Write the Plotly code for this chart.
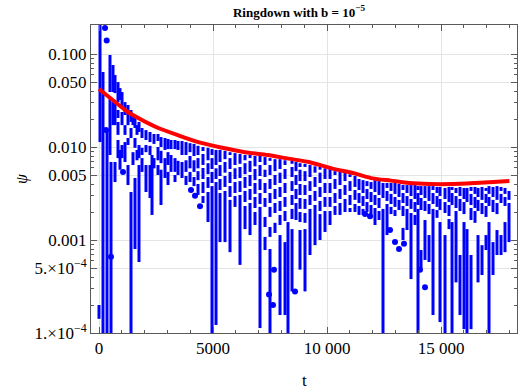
import plotly.graph_objects as go

# blue |psi| samples, drawn as short vertical strokes; one source line per time column
seg_t = [0,
         44,
         175,
         351,
         482, 482,
         526,
         614, 614,
         702, 702, 702,
         833, 833, 833, 833,
         921, 921,
         1009, 1009, 1009,
         1140, 1140, 1140,
         1272, 1272, 1272,
         1404, 1404, 1404,
         1491, 1491,
         1579, 1579, 1579,
         1667, 1667,
         1754, 1754, 1754,
         1886, 1886, 1886,
         2061, 2061, 2061,
         2237, 2237, 2237,
         2325,
         2412, 2412,
         2588, 2588, 2588,
         2719, 2719, 2719,
         2895, 2895,
         3026, 3026, 3026,
         3158, 3158,
         3333, 3333, 3333,
         3465, 3465,
         3640, 3640,
         3816, 3816, 3816,
         3991, 3991, 3991,
         4167, 4167, 4167,
         4342, 4342, 4342, 4342,
         4561, 4561, 4561, 4561, 4561,
         4781, 4781, 4781, 4781,
         4956, 4956, 4956, 4956,
         5132, 5132, 5132,
         5307, 5307, 5307, 5307,
         5526, 5526, 5526, 5526,
         5746, 5746, 5746, 5746, 5746,
         5965, 5965, 5965, 5965,
         6184, 6184, 6184, 6184,
         6404, 6404, 6404, 6404, 6404,
         6623, 6623, 6623, 6623, 6623,
         6842, 6842, 6842, 6842, 6842,
         7061, 7061, 7061, 7061, 7061,
         7281, 7281, 7281, 7281, 7281, 7281,
         7500, 7500, 7500, 7500, 7500, 7500, 7500,
         7719, 7719, 7719, 7719, 7719,
         7939, 7939, 7939, 7939, 7939, 7939,
         8158, 8158, 8158, 8158, 8158, 8158,
         8289,
         8465, 8465, 8465, 8465, 8465, 8465,
         8640, 8640, 8640, 8640,
         8816, 8816, 8816, 8816, 8816, 8816,
         9035, 9035, 9035, 9035, 9035, 9035,
         9254, 9254, 9254, 9254,
         9474, 9474, 9474, 9474,
         9693, 9693, 9693, 9693, 9693,
         9912, 9912, 9912, 9912,
         10132, 10132, 10132, 10132,
         10351, 10351, 10351, 10351,
         10570, 10570, 10570,
         10790, 10790, 10790,
         11009, 11009, 11009, 11009,
         11228, 11228, 11228,
         11404, 11404, 11404,
         11579, 11579, 11579,
         11754, 11754, 11754,
         11930, 11930, 11930,
         12105, 12105, 12105,
         12281, 12281, 12281,
         12456, 12456,
         12632, 12632, 12632,
         12807, 12807, 12807,
         12982, 12982, 12982,
         13158, 13158,
         13333, 13333, 13333, 13333,
         13509, 13509, 13509,
         13684, 13684, 13684,
         13860, 13860, 13860,
         13991, 13991, 13991,
         14123, 14123, 14123,
         14298, 14298, 14298,
         14474, 14474, 14474,
         14649, 14649, 14649,
         14825, 14825, 14825,
         14956, 14956, 14956,
         15176, 15176, 15176,
         15351, 15351, 15351,
         15483, 15483, 15483,
         15658, 15658, 15658,
         15833, 15833, 15833,
         16009, 16009, 16009,
         16140, 16140,
         16316, 16316, 16316, 16316,
         16491, 16491, 16491,
         16623, 16623, 16623,
         16798, 16798, 16798,
         16974, 16974, 16974, 16974,
         17105, 17105, 17105,
         17281, 17281, 17281,
         17456, 17456, 17456,
         17632, 17632, 17632,
         17807, 17807, 17807,
         17983, 17983]
seg_hi = [0.0002,
          0.25,
          0.064,
          0.0156,
          0.0976, 0.0328,
          0.0069,
          0.0762, 0.0304,
          0.0594, 0.0304, 0.0069,
          0.0499, 0.025, 0.0186, 0.0119,
          0.043, 0.0093,
          0.039, 0.0238, 0.0105,
          0.0304, 0.0172, 0.0113,
          0.0283, 0.0125, 0.0064,
          0.025, 0.016, 0.00328,
          0.0221, 0.0088,
          0.0205, 0.0125, 0.00464,
          0.0172, 0.0093,
          0.0186, 0.0105, 0.0064,
          0.016, 0.0098, 0.0076,
          0.0152, 0.0105, 0.0064,
          0.0145, 0.0103, 0.0064,
          0.0082,
          0.0138, 0.0076,
          0.0138, 0.010, 0.0064,
          0.0128, 0.0091, 0.0057,
          0.0125, 0.0076,
          0.0122, 0.0088, 0.0054,
          0.0119, 0.0082,
          0.0119, 0.0076, 0.005,
          0.0116, 0.0071,
          0.0116, 0.0069,
          0.0113, 0.0072, 0.00488,
          0.011, 0.008, 0.0054,
          0.0108, 0.0072, 0.00476,
          0.0103, 0.0076, 0.0055, 0.004,
          0.010, 0.00841, 0.00595, 0.0042, 0.00297,
          0.0098, 0.0067, 0.00476, 0.00328,
          0.0095, 0.0076, 0.0054, 0.0038,
          0.0093, 0.0059, 0.0042,
          0.0093, 0.0064, 0.00453, 0.0032,
          0.0091, 0.0069, 0.00488, 0.00337,
          0.0088, 0.0076, 0.0054, 0.0038, 0.0027,
          0.0086, 0.0059, 0.0042, 0.00297,
          0.0084, 0.0061, 0.0043, 0.00305,
          0.0082, 0.0067, 0.00476, 0.00337, 0.00232,
          0.0082, 0.0071, 0.005, 0.00354, 0.0025,
          0.008, 0.0058, 0.0041, 0.0029, 0.002,
          0.008, 0.0064, 0.00453, 0.0032, 0.00227,
          0.0078, 0.0057, 0.0041, 0.00283, 0.00177, 0.00108,
          0.0076, 0.0064, 0.00453, 0.0032, 0.00227, 0.00138, 0.0008,
          0.0074, 0.005, 0.00354, 0.0025, 0.00153,
          0.0074, 0.0053, 0.00372, 0.00263, 0.00186, 0.00113,
          0.0072, 0.0058, 0.0041, 0.0029, 0.00205, 0.00095,
          0.00156,
          0.0071, 0.0061, 0.0043, 0.00305, 0.00216, 0.00131,
          0.0069, 0.005, 0.00354, 0.0025,
          0.0067, 0.0057, 0.004, 0.00283, 0.002, 0.00128,
          0.0066, 0.0055, 0.0039, 0.00276, 0.00195, 0.00131,
          0.0064, 0.0043, 0.00305, 0.00216,
          0.0062, 0.00476, 0.00337, 0.00238,
          0.0061, 0.0053, 0.00372, 0.00263, 0.0019,
          0.0059, 0.0041, 0.0029, 0.00205,
          0.0058, 0.0041, 0.0029, 0.00205,
          0.0055, 0.00453, 0.0032, 0.00232,
          0.0054, 0.00354, 0.0025,
          0.0053, 0.0039, 0.00276,
          0.0051, 0.0043, 0.00305, 0.00221,
          0.00488, 0.00345, 0.00244,
          0.00453, 0.0032, 0.00232,
          0.0044, 0.00297, 0.00216,
          0.0043, 0.00354, 0.00256,
          0.0042, 0.00328, 0.00238,
          0.0044, 0.00305, 0.00221,
          0.0043, 0.00283, 0.00205,
          0.0041, 0.00216,
          0.0041, 0.00337, 0.00244,
          0.0041, 0.00313, 0.00227,
          0.0041, 0.0029, 0.0021,
          0.004, 0.0027,
          0.0039, 0.0032, 0.00232, 0.00135,
          0.0039, 0.00297, 0.00216,
          0.0039, 0.00276, 0.00195,
          0.0039, 0.00256, 0.00186,
          0.0038, 0.0032, 0.00216,
          0.0038, 0.00283, 0.00078,
          0.0038, 0.00263, 0.00164,
          0.0038, 0.00244, 0.00113,
          0.0038, 0.0032, 0.00216,
          0.00372, 0.00297, 0.0021,
          0.00372, 0.00276, 0.00156,
          0.00363, 0.00256, 0.00113,
          0.00372, 0.00238, 0.00168,
          0.00372, 0.0032, 0.00156,
          0.00363, 0.00297, 0.00205,
          0.00372, 0.00276, 0.00069,
          0.00363, 0.00256, 0.00156,
          0.00363, 0.00131,
          0.00372, 0.00313, 0.00221, 0.00069,
          0.00372, 0.0029, 0.00205,
          0.00363, 0.0027, 0.00113,
          0.00372, 0.0025, 0.00088,
          0.00363, 0.00313, 0.00232, 0.00113,
          0.0038, 0.0029, 0.00156,
          0.00372, 0.0027, 0.00095,
          0.0038, 0.0025, 0.00128,
          0.00372, 0.00313, 0.00113,
          0.00363, 0.0029, 0.00156,
          0.00337, 0.0025]
seg_lo = [0.000142,
          0.0113,
          0.00005,
          0.00005,
          0.039, 0.0082,
          0.00005,
          0.039, 0.0172,
          0.038, 0.0172, 0.0042,
          0.0304, 0.0205, 0.0135, 0.0076,
          0.032, 0.0057,
          0.0262, 0.0172, 0.0076,
          0.0221, 0.0135, 0.0069,
          0.0172, 0.0105, 0.0039,
          0.0186, 0.0125, 0.00005,
          0.0172, 0.0064,
          0.016, 0.0098, 0.0008,
          0.0135, 0.0072,
          0.0145, 0.0076, 0.00058,
          0.0125, 0.0082, 0.0054,
          0.0119, 0.0088, 0.00328,
          0.0113, 0.0082, 0.00283,
          0.00186,
          0.0108, 0.0059,
          0.0116, 0.0072, 0.005,
          0.010, 0.0067, 0.00238,
          0.0093, 0.00464,
          0.0095, 0.0064, 0.0039,
          0.0095, 0.0054,
          0.0095, 0.0054, 0.0042,
          0.0093, 0.005,
          0.0082, 0.00464,
          0.0082, 0.0054, 0.0039,
          0.0088, 0.0059, 0.0042,
          0.008, 0.0054, 0.0038,
          0.0082, 0.0059, 0.0044, 0.00305,
          0.00906, 0.0064, 0.00453, 0.0032, 0.0025,
          0.0072, 0.0051, 0.00363, 0.00156,
          0.0082, 0.0058, 0.0041, 0.00005,
          0.0064, 0.00453, 0.000122,
          0.0069, 0.00488, 0.00345, 0.00095,
          0.0074, 0.0053, 0.00372, 0.00095,
          0.0082, 0.0058, 0.0041, 0.0029, 0.00074,
          0.0064, 0.00453, 0.0032, 0.00227,
          0.0066, 0.00464, 0.00328, 0.00054,
          0.0072, 0.0051, 0.00363, 0.00256, 0.00131,
          0.0076, 0.0054, 0.0038, 0.0027, 0.00113,
          0.0062, 0.0044, 0.00313, 0.00221, 0.00145,
          0.0069, 0.00488, 0.00345, 0.00244, 0.000113,
          0.0064, 0.00476, 0.0032, 0.00227, 0.00138, 0.00078,
          0.0071, 0.005, 0.00354, 0.0025, 0.00177, 0.00108, 0.00005,
          0.0055, 0.0039, 0.00276, 0.00195, 0.00119,
          0.0058, 0.0041, 0.0029, 0.00205, 0.00145, 0.000156,
          0.0064, 0.00453, 0.0032, 0.00227, 0.0016, 0.000156,
          0.00005,
          0.0066, 0.00476, 0.00337, 0.00238, 0.00168, 0.00028,
          0.0055, 0.0039, 0.00276, 0.00164,
          0.0061, 0.0043, 0.00305, 0.00216, 0.00156, 0.00048,
          0.0061, 0.0043, 0.00305, 0.00216, 0.00153, 0.00028,
          0.00476, 0.00337, 0.00238, 0.00069,
          0.0053, 0.00372, 0.00263, 0.00088,
          0.0057, 0.0041, 0.0029, 0.00205, 0.001,
          0.00453, 0.0032, 0.00227, 0.00122,
          0.00453, 0.0032, 0.00227, 0.00145,
          0.005, 0.00354, 0.0025, 0.00186,
          0.0039, 0.00276, 0.00186,
          0.0043, 0.00305, 0.002,
          0.00476, 0.00337, 0.00238, 0.002,
          0.00372, 0.0027, 0.002,
          0.00345, 0.0025, 0.00186,
          0.0032, 0.00232, 0.00186,
          0.0038, 0.00276, 0.002,
          0.00354, 0.00256, 0.00173,
          0.00328, 0.00238, 0.00145,
          0.00305, 0.00221, 0.00164,
          0.00283, 0.00005,
          0.00363, 0.00263, 0.00113,
          0.00337, 0.00244, 0.0019,
          0.00313, 0.00227, 0.00181,
          0.0029, 0.0021,
          0.00345, 0.0025, 0.00181, 0.001,
          0.0032, 0.00232, 0.00128,
          0.00297, 0.00216, 0.00038,
          0.00276, 0.002, 0.00145,
          0.00345, 0.00238, 0.00005,
          0.00305, 0.0021, 0.0005,
          0.00283, 0.00205, 0.00061,
          0.00263, 0.0019, 0.00058,
          0.00345, 0.00244, 0.000156,
          0.0032, 0.00227, 0.00173,
          0.00297, 0.0021, 0.000131,
          0.00276, 0.00195, 0.00005,
          0.00256, 0.00181, 0.00131,
          0.00345, 0.00238, 0.00005,
          0.0032, 0.00221, 0.00035,
          0.00297, 0.00205, 0.000156,
          0.00276, 0.0019, 0.00011,
          0.00256, 0.00005,
          0.00337, 0.00238, 0.00164, 0.00011,
          0.00313, 0.00221, 0.00153,
          0.0029, 0.00205, 0.00035,
          0.0027, 0.0019, 0.00042,
          0.00337, 0.0025, 0.00177, 0.00078,
          0.00313, 0.00232, 0.00005,
          0.0029, 0.002, 0.00042,
          0.0027, 0.0019, 0.00069,
          0.00337, 0.0025, 0.00069,
          0.00313, 0.00232, 0.00074,
          0.0027, 0.00095]

# isolated sample points
dot_t = [263, 337, 307, 526, 1053, 4035, 4211, 4430, 7456, 7632,
         7675, 8597, 11667, 11886, 12763, 12982, 13158, 13377, 14079, 14298]
dot_y = [0.19, 0.14, 0.0152, 0.00066, 0.0054, 0.00345, 0.003, 0.0023, 0.00026, 0.0002,
         0.00048, 0.00028, 0.0019, 0.0018, 0.00128, 0.00095, 0.0008, 0.00091, 0.00048, 0.00031]

# red envelope
env_t = [0, 600, 1200, 1800, 2600, 3500, 4400, 5400, 6400, 7400, 8300,
         9200, 10200, 11200, 12000, 12800, 13600, 14500, 15500, 16500, 17300, 18000]
env_y = [0.042, 0.032, 0.0244, 0.020, 0.016, 0.0133, 0.0112, 0.0098, 0.0088, 0.0082, 0.0075,
         0.0069, 0.0059, 0.0052, 0.0046, 0.00435, 0.0041, 0.0040, 0.0040, 0.0041, 0.0042, 0.0043]

y_ticks = [1e-4, 5e-4, 1e-3, 5e-3, 1e-2, 5e-2, 1e-1]
y_labels = ["1.×10<sup>−4</sup>", "5.×10<sup>−4</sup>", "0.001", "0.005",
            "0.010", "0.050", "0.100"]
x_ticks = [0, 5000, 10000, 15000]
x_labels = ["0", "5000", "10 000", "15 000"]

assert len(seg_t) == len(seg_hi) == len(seg_lo), (len(seg_t), len(seg_hi), len(seg_lo))

_BLUE, _RED, _FRAME, _GRID = "#0000ff", "#ff0000", "#5a5a5a", "#e4e4e4"
SERIF = "Liberation Serif"

xs, ys = [], []
for t, hi, lo in zip(seg_t, seg_hi, seg_lo):
    xs += [t, t, None]
    ys += [hi, lo, None]

fig = go.Figure()
fig.add_trace(go.Scatter(x=xs, y=ys, mode="lines", line=dict(color=_BLUE, width=3),
                         hoverinfo="skip", showlegend=False))
fig.add_trace(go.Scatter(x=dot_t, y=dot_y, mode="markers",
                         marker=dict(color=_BLUE, size=6), showlegend=False))
fig.add_trace(go.Scatter(x=env_t, y=env_y, mode="lines",
                         line=dict(color=_RED, width=4, shape="spline", smoothing=0.6),
                         showlegend=False))

minor_y = [m * d for d in (1e-4, 1e-3, 1e-2, 1e-1) for m in range(2, 10) if m * d < 0.2]

fig.update_layout(
    width=523, height=392, margin=dict(l=91, r=6, t=25, b=59),
    plot_bgcolor="white", paper_bgcolor="white",
    font=dict(family=SERIF, size=17, color="black"),
    title=dict(text="<b>Ringdown with b = 10<sup>−5</sup></b>", x=299 / 523, xanchor="center",
               y=1 - 12 / 392, yanchor="middle", font=dict(family=SERIF, size=13)),
    annotations=[
        dict(text="t", x=0.5, xref="paper", y=0, yref="paper", yshift=-47,
             yanchor="middle", showarrow=False, font=dict(family=SERIF, size=17)),
        dict(text="<i>ψ</i>", x=0, xref="paper", xshift=-80, y=0.5, yref="paper",
             textangle=-90, showarrow=False, font=dict(family=SERIF, size=16)),
    ],
)
fig.update_xaxes(range=[-351, 18333], tickmode="array", tickvals=x_ticks, ticktext=x_labels,
                 ticks="inside", ticklen=6, tickcolor=_FRAME, showline=True, linecolor=_FRAME,
                 linewidth=1, mirror="allticks", showgrid=True, gridcolor=_GRID, zeroline=False,
                 minor=dict(tickmode="linear", tick0=0, dtick=1000, ticks="inside", ticklen=3,
                            tickcolor=_FRAME, showgrid=False))
fig.update_yaxes(type="log", range=[-4, -0.688], tickmode="array", tickvals=y_ticks,
                 ticktext=y_labels, ticks="inside", ticklen=6, tickcolor=_FRAME,
                 showline=True, linecolor=_FRAME, linewidth=1, mirror="allticks",
                 showgrid=True, gridcolor=_GRID, zeroline=False,
                 minor=dict(tickmode="array", tickvals=minor_y, ticks="inside", ticklen=3,
                            tickcolor=_FRAME, showgrid=False))

# the page's default body margin would shift the figure by 8px
fig.write_html("out.html", config={"displayModeBar": False},
               post_script="document.body.style.margin='0';")
